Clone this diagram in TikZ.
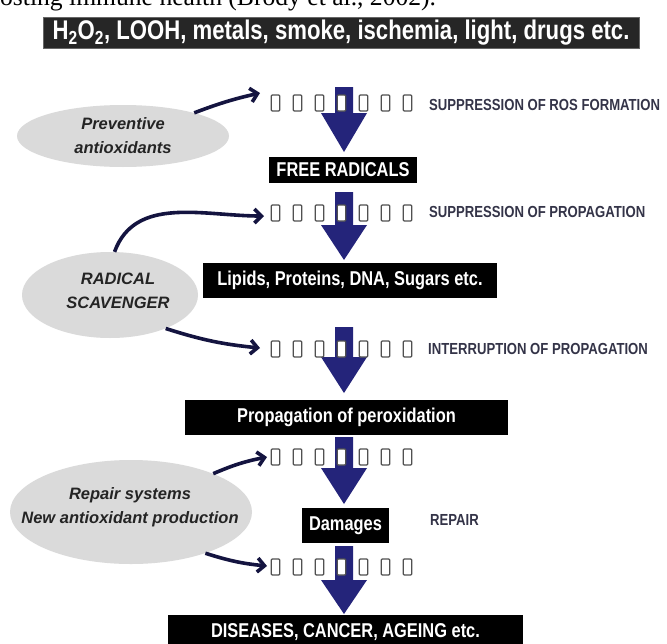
\documentclass[tikz,border=0pt]{standalone}
\usepackage{fontspec}
\setmainfont{Liberation Sans}
\newfontfamily\narfont[FakeStretch=0.82]{Liberation Sans}
\newfontfamily\capfont{Liberation Serif}
\usetikzlibrary{arrows.meta,shapes.geometric}
\definecolor{arrowblue}{RGB}{36,36,122}
\definecolor{linknavy}{RGB}{20,20,64}
\definecolor{labelgray}{RGB}{52,52,72}
\definecolor{ellgray}{RGB}{218,218,218}
\definecolor{rectgray}{RGB}{80,80,80}
\definecolor{ovaltext}{RGB}{36,36,36}
\begin{document}
\begin{tikzpicture}[x=1pt,y=-1pt,
  blackbox/.style={fill=black, text=white, inner sep=0pt,
    font=\narfont\bfseries\fontsize{20}{20}\selectfont},
  titlebox/.style={fill=black!85, draw=black!60, line width=0.6pt, text=white, inner sep=0pt,
    font=\narfont\bfseries\fontsize{27}{27}\selectfont},
  oval/.style={ellipse, fill=ellgray, draw=none, inner sep=0pt},
  ovaltxt/.style={align=center, text=ovaltext,
    font=\bfseries\itshape\fontsize{16.5}{24}\selectfont},
  sidelabel/.style={anchor=west, text=labelgray, inner sep=0pt,
    font=\narfont\bfseries\fontsize{16}{16}\selectfont},
  smallrect/.style={draw=rectgray, fill=white, line width=1.3pt, rounded corners=1pt,
    minimum width=8.5pt, minimum height=16pt, inner sep=0pt},
  bigarrow/.style={fill=arrowblue, draw=none},
  link/.style={draw=linknavy, line width=3.6pt, -{Straight Barb[length=7pt,width=14pt]}}
]
\clip (0,0) rectangle (667,643);
\fill[white] (0,0) rectangle (667,643);

% clipped caption line at the top
\node[anchor=base west, inner sep=0pt, font=\capfont\fontsize{25.6}{26}\selectfont] (caption) at (0,5) {osting immune health (Brody et al., 2002).};

% title
\node[titlebox, minimum width=596pt, minimum height=31pt] (title) at (341,32.5)
  {H\textsubscript{2}O\textsubscript{2}, LOOH, metals, smoke, ischemia, light, drugs etc.};

% big block arrows
\newcommand{\blockarrow}[4]{%
  \fill[bigarrow] (#1-9,#2) -- (#1+9,#2) -- (#1+9,#3) -- (#1+23,#3) -- (#1,#4)
    -- (#1-23,#3) -- (#1-9,#3) -- cycle;}
\blockarrow{344}{87}{113}{152}
\blockarrow{344}{192}{225}{260}
\blockarrow{344}{327}{357}{393}
\blockarrow{344}{437}{468}{504}
\blockarrow{344}{546}{580}{614}

% black boxes
\node[blackbox, minimum width=148pt, minimum height=26pt] (free) at (343,170) {FREE RADICALS};
\node[blackbox, minimum width=294pt, minimum height=35pt] (lipids) at (350,280) {Lipids, Proteins, DNA, Sugars etc.};
\node[blackbox, minimum width=323pt, minimum height=35pt] (prop) at (346.5,417.5) {Propagation of peroxidation};
\node[blackbox, minimum width=87pt, minimum height=35pt] (dam) at (345.5,525.5) {Damages};
\node[blackbox, minimum width=355pt, minimum height=34pt] (dis) at (345.5,632) {DISEASES, CANCER, AGEING etc.};

% rows of small rectangles
\foreach \r/\y in {1/103,2/213,3/349,4/457,5/567}{
  \foreach \i in {0,...,6}{
    \node[smallrect] (r\r-\i) at (275.5+22*\i,\y) {};
  }
}

% side labels
\node[sidelabel] (lab1) at (429,105) {SUPPRESSION OF ROS FORMATION};
\node[sidelabel] (lab2) at (429,212) {SUPPRESSION OF PROPAGATION};
\node[sidelabel] (lab3) at (428,349) {INTERRUPTION OF PROPAGATION};
\node[sidelabel] (lab4) at (430,520) {REPAIR};

% ovals
\node[oval, minimum width=212pt, minimum height=62pt] (prev) at (123,136) {};
\node[ovaltxt] (prevtxt) at (123,135.5) {Preventive\\antioxidants};
\node[oval, minimum width=176pt, minimum height=86pt] (scav) at (110,295) {};
\node[ovaltxt] (scavtxt) at (118,291) {RADICAL\\SCAVENGER};
\node[oval, minimum width=242pt, minimum height=104pt] (rep) at (131,512) {};
\node[ovaltxt] (reptxt) at (130,507) {Repair systems\\New antioxidant production};

% free ends of the connectors, just left of the rows
\coordinate (e1) at (260,93);
\coordinate (e2) at (264,216);
\coordinate (e3) at (260,348);
\coordinate (e4) at (267,457);
\coordinate (e5) at (267,566);

% connectors
\draw[link] (prev.18) to[bend left=4] (e1);
\draw[link] (scav.84) to[out=70,in=180] (e2);
\draw[link] (scav.-31) to[bend right=6] (e3);
\draw[link] (rep.25) to[bend left=6] (e4);
\draw[link] (rep.-29) to[bend right=6] (e5);
\end{tikzpicture}
\end{document}
